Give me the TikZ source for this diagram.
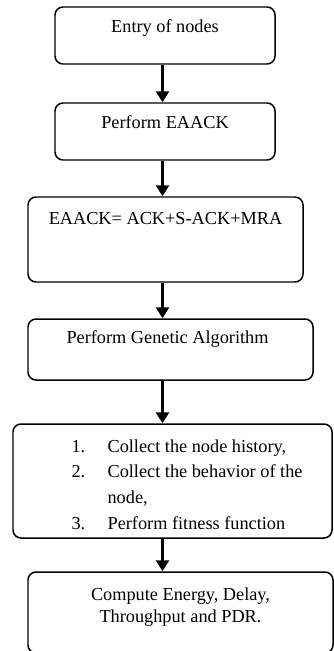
\documentclass[tikz,border=0pt]{standalone}
\usepackage{fontspec}
\setmainfont{Liberation Serif}
\usetikzlibrary{positioning, arrows.meta, calc}

\begin{document}
\begin{tikzpicture}[
    stage/.style={draw, line width=0.85pt, rounded corners=0.16cm, inner sep=0pt},
    caption/.style={inner sep=0pt, font=\fontsize{10.4}{12.5}\selectfont, align=center},
    flow/.style={line width=1.7pt, -{Triangle[width=0.26cm,length=0.22cm]}}
  ]
  \useasboundingbox (0,0) rectangle (6.66,-13.02);
  \coordinate (spine) at (3.25,0);

  % Boxes
  \node[stage, minimum width=4.40cm, minimum height=1.14cm] (entry) at (3.30,-0.71) {};
  \node[stage, minimum width=4.40cm, minimum height=1.14cm] (eaack) at (3.30,-2.63) {};
  \node[stage, minimum width=5.50cm, minimum height=1.70cm] (combo) at (3.31,-4.79) {};
  \node[stage, minimum width=5.70cm, minimum height=1.22cm] (genetic) at (3.41,-6.99) {};
  \node[stage, minimum width=6.38cm, minimum height=2.28cm] (steps) at (3.45,-9.62) {};
  \node[stage, minimum width=6.10cm, minimum height=1.62cm] (metrics) at (3.61,-12.25) {};

  % Texts
  \node[caption, anchor=base] (entrytxt) at ($(entry.north)+(0,-0.52)$) {Entry of nodes};
  \node[caption, anchor=base] (eaacktxt) at ($(eaack.north)+(0,-0.52)$) {Perform EAACK};
  \node[caption, anchor=base] (combotxt) at ($(combo.north)+(0,-0.56)$) {EAACK= ACK+S-ACK+MRA};
  \node[caption, anchor=base] (genetictxt) at ($(genetic.north)+(-0.06,-0.50)$) {Perform Genetic Algorithm};
  \node[caption, align=left, anchor=north west, font=\fontsize{10.4}{14.6}\selectfont] (stepstxt)
    at ($(steps.north west)+(1.18,-0.32)$)
    {\makebox[0.72cm][l]{1.}Collect the node history,\\
     \makebox[0.72cm][l]{2.}Collect the behavior of the\\
     \hspace*{0.72cm}node,\\
     \makebox[0.72cm][l]{3.}Perform fitness function};
  \node[caption, anchor=north] (metricstxt) at ($(metrics.north)+(0,-0.33)$)
    {Compute Energy, Delay,\\ Throughput and PDR.};

  % Arrows
  \draw[flow] (entry.south -| spine) -- (eaack.north -| spine);
  \draw[flow] (eaack.south -| spine) -- (combo.north -| spine);
  \draw[flow] (combo.south -| spine) -- (genetic.north -| spine);
  \draw[flow] (genetic.south -| spine) -- (steps.north -| spine);
  \draw[flow] (steps.south -| spine) -- (metrics.north -| spine);
\end{tikzpicture}
\end{document}
